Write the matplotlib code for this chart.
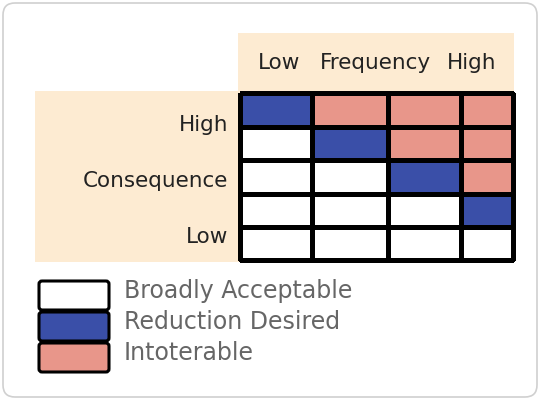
import numpy as np
import matplotlib
matplotlib.use('Agg')
import matplotlib.pyplot as plt
from matplotlib.colors import ListedColormap
from matplotlib.patches import FancyBboxPatch, Rectangle

# risk levels: 0 broadly acceptable, 1 reduction desired, 2 intolerable
risk = [
    [1, 2, 2, 2],
    [0, 1, 2, 2],
    [0, 0, 1, 2],
    [0, 0, 0, 1],
    [0, 0, 0, 0],
]
freq_labels = ["Low", "Frequency", "High"]
cons_labels = ["High", "Consequence", "Low"]
legend_labels = ["Broadly Acceptable", "Reduction Desired", "Intoterable"]
level_colors = ["#ffffff", "#3a4fa8", "#e8968a"]

# layout in pixel units
col_edges = np.array([240, 312, 388, 461, 513])
row_edges = np.array([93, 127, 160, 194, 227, 260])
beige = "#fdebd2"

fig = plt.figure(figsize=(5.4, 4.0), dpi=100)
ax = fig.add_axes([0, 0, 1, 1])
ax.set_xlim(0, 540)
ax.set_ylim(400, 0)
ax.axis('off')

ax.add_patch(FancyBboxPatch((3, 3), 534, 394, boxstyle="round,pad=0,rounding_size=12",
                            fc="white", ec="#d0d0d0", lw=1.2))
ax.add_patch(Rectangle((238, 33), 276, 58, fc=beige, ec="none"))
ax.add_patch(Rectangle((35, 91), 205, 171, fc=beige, ec="none"))

cmap = ListedColormap(level_colors)
ax.pcolormesh(col_edges, row_edges, np.array(risk), cmap=cmap, vmin=-0.5, vmax=2.5,
              edgecolors="black", linewidth=2.2)

txt = dict(fontsize=15.5, color="#222222", family="DejaVu Sans")
for x, s in zip([279, 375, 472], freq_labels):
    ax.text(x, 63, s, ha="center", va="center", **txt)
for y, s in zip([125, 181, 237], cons_labels):
    ax.text(228, y, s, ha="right", va="center", **txt)

for i, (lab, c) in enumerate(zip(legend_labels, level_colors)):
    y0 = 280 + i * 31
    ax.add_patch(FancyBboxPatch((39, y0 + 1), 70, 29, boxstyle="round,pad=0,rounding_size=3",
                                fc=c, ec="black", lw=2.2))
    ax.text(124, y0 + 11, lab, ha="left", va="center", fontsize=17, color="#666666")

plt.savefig("out.png", dpi=100)
